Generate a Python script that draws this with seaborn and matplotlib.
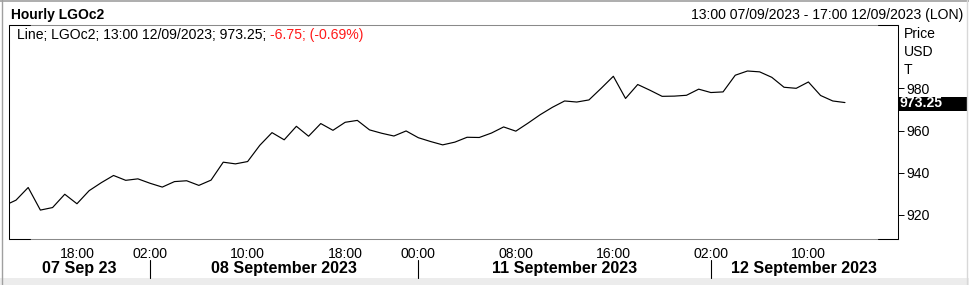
import numpy as np
import pandas as pd
import matplotlib
matplotlib.use("Agg")
import matplotlib.pyplot as plt
import matplotlib.transforms as mtrans
from matplotlib.lines import Line2D
from matplotlib.patches import Rectangle
import seaborn as sns

# ---------------- data ----------------
session_days = ["07 Sep 23", "08 September 2023", "11 September 2023", "12 September 2023"]
session_hours = [list(range(12, 23)), list(range(1, 24)), list(range(0, 23)), list(range(1, 14))]
tick_hours = [[18], [2, 10, 18], [0, 8, 16], [2, 10]]
prices = [
    924.3, 927.0, 933.0, 922.3, 923.5, 929.8, 925.3, 931.5, 935.3, 938.7, 936.4,
    937.1, 935.0, 933.2, 935.8, 936.2, 934.0, 936.5, 945.0, 944.2, 945.3, 953.0,
    959.0, 955.6, 962.0, 957.3, 963.3, 960.1, 963.9, 964.8, 960.3, 958.7, 957.4, 959.8,
    956.6, 954.8, 953.2, 954.5, 956.8, 956.7, 958.8, 961.7, 959.7, 963.5, 967.5,
    971.0, 974.0, 973.5, 974.5, 980.0, 985.7, 975.2, 981.8, 979.1, 976.2, 976.3, 976.7,
    979.6, 978.0, 978.3, 986.2, 988.2, 987.8, 985.2, 980.5, 980.0, 983.0, 976.6, 974.0, 973.25,
]
y_ticks = [920, 940, 960, 980]
title_left = "Hourly LGOc2"
title_right = "13:00 07/09/2023 - 17:00 12/09/2023 (LON)"
legend_black = "Line; LGOc2; 13:00 12/09/2023; 973.25; "
legend_red = "-6.75; (-0.69%)"
axis_units = ["Price", "USD", "T"]
last_label = "973.25"

rows = []
for d, hours in enumerate(session_hours):
    for h in hours:
        rows.append((d, h))
df = pd.DataFrame(rows, columns=["day", "hour"])
df["price"] = prices
df["bar"] = np.arange(len(df))

# ---------------- figure ----------------
sns.set_style("white")
plt.rcParams["font.family"] = ["Liberation Sans", "DejaVu Sans"]

FS = 10.1
W, H = 969, 285
fig = plt.figure(figsize=(W / 100, H / 100), dpi=100)
fig.patch.set_facecolor("white")


def fx(x):
    return x / W


def fy(y):
    return 1 - y / H


L, R, T, B = 9, 898, 25, 239
ax = fig.add_axes([fx(L), fy(B), fx(R - L), (B - T) / H])
ax.set_facecolor("white")

sns.lineplot(data=df, x="bar", y="price", ax=ax, color="black",
             linewidth=0.85, estimator=None, legend=False)

ax.set_xlim(0.426, 73.35)
ax.set_ylim(908.6, 1010.0)
ax.set_xlabel("")
ax.set_ylabel("")

# y axis on the right
ax.yaxis.tick_right()
ax.set_yticks(y_ticks)
ax.set_yticklabels([str(v) for v in y_ticks])
ax.tick_params(axis="y", which="both", direction="out", length=4.3, width=0.7,
               colors="black", labelsize=FS, pad=1.8, left=False, right=True)

# x ticks
tick_pos, tick_lab, day_first = [], [], []
for d, hs in enumerate(tick_hours):
    for i, h in enumerate(hs):
        p = df.index[(df["day"] == d) & (df["hour"] == h)][0]
        tick_pos.append(p)
        tick_lab.append(f"{h:02d}:00")
        if i == 0:
            day_first.append(p)
ax.set_xticks(tick_pos)
ax.set_xticklabels(tick_lab)
ax.tick_params(axis="x", direction="out", length=3, width=0.7, color="#999999",
               labelsize=FS, pad=2.8, labelcolor="black")

# spines
for s in ["left", "right"]:
    ax.spines[s].set_color("black")
    ax.spines[s].set_linewidth(0.75)
for s in ["top", "bottom"]:
    ax.spines[s].set_color("#8a8a8a")
    ax.spines[s].set_linewidth(0.75)
for yy in [T, B]:
    for x0, x1 in [(L, L + 21), (R - 20, R)]:
        fig.add_artist(Line2D([fx(x0), fx(x1)], [fy(yy), fy(yy)], color="black",
                              linewidth=0.75, transform=fig.transFigure))

# day separators & labels
blend = mtrans.blended_transform_factory(ax.transData, fig.transFigure)
xmin, xmax = ax.get_xlim()
bounds = [xmin] + day_first[1:] + [xmax]
for p in day_first[1:]:
    ln = Line2D([p, p], [fy(260), fy(278)], color="black", linewidth=0.8,
                transform=blend)
    fig.add_artist(ln)
for d, name in enumerate(session_days):
    c = (bounds[d] + bounds[d + 1]) / 2
    fig.text(c, fy(272.7), name, transform=blend, ha="center", va="baseline",
             fontsize=11.6, fontweight="bold", color="black")

# header
fig.text(fx(11), fy(19.3), title_left, ha="left", va="baseline",
         fontsize=10, fontweight="bold", color="black")
fig.text(fx(963), fy(19.3), title_right, ha="right", va="baseline",
         fontsize=FS, color="black")

# legend text (two colours)
t1 = fig.text(fx(17), fy(39.3), legend_black, ha="left", va="baseline",
              fontsize=FS, color="black")
fig.canvas.draw()
bb = t1.get_window_extent(renderer=fig.canvas.get_renderer())
fig.text(bb.x1 / (W), fy(39.3), legend_red, ha="left", va="baseline",
         fontsize=FS, color="#ff1a1a")

# units
for i, u in enumerate(axis_units):
    fig.text(fx(904), fy(37.7 + 18.2 * i), u, ha="left", va="baseline",
             fontsize=FS, color="black")

# last price box
blend_y = mtrans.blended_transform_factory(fig.transFigure, ax.transData)
last = prices[-1]
half = 7.0 / 2.1117
fig.add_artist(Rectangle((fx(897.5), last - half - 0.45), fx(70), 2 * half,
                         transform=blend_y, facecolor="black", edgecolor="none",
                         clip_on=False))
fig.text(fx(899), last, last_label, transform=blend_y, ha="left", va="center",
         fontsize=FS, fontweight="bold", color="white")

# outer frame
fig.add_artist(Line2D([0, 1], [fy(0.5), fy(0.5)], color="#a0a0a0", linewidth=1.2,
                      transform=fig.transFigure))
fig.add_artist(Line2D([fx(1.5), fx(1.5)], [0, 1], color="#a0a0a0", linewidth=1.0,
                      transform=fig.transFigure))
fig.add_artist(Line2D([fx(966.5), fx(966.5)], [0, 1], color="#d8d8d8", linewidth=1.0,
                      transform=fig.transFigure))
fig.add_artist(Rectangle((0, 0), 1, (H - 277.5) / H, transform=fig.transFigure,
                         facecolor="#ececec", edgecolor="none"))

fig.savefig("out.png", dpi=100, facecolor="white")
